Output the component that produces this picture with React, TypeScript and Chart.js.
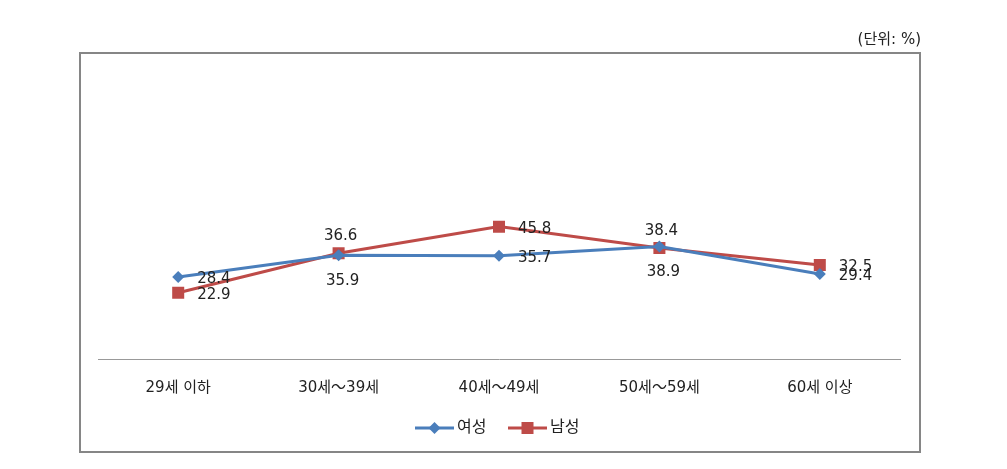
import React, { useEffect, useRef } from 'react';
import { Chart, registerables } from 'chart.js';

Chart.register(...registerables);

const categories = ['29세 이하', '30세～39세', '40세～49세', '50세～59세', '60세 이상'];
const femaleValues = [28.4, 35.9, 35.7, 38.9, 29.4];
const maleValues = [22.9, 36.6, 45.8, 38.4, 32.5];
const seriesNames = ['여성', '남성'];
const unitLabel = '(단위: %)';
const femaleLabelPos = ['right', 'below', 'right', 'below', 'right'];
const maleLabelPos = ['right', 'above', 'right', 'above', 'right'];

const BLUE = '#4A7EBB';
const RED = '#BE4B48';
const LABEL_FONT = '15px "DejaVu Sans", Verdana, sans-serif';
const KR_FONT = '"DejaVu Sans", "Noto Sans CJK KR", "Noto Sans", sans-serif';

const decorPlugin = {
  id: 'decor',
  beforeDraw(chart: any) {
    const ctx = chart.ctx;
    ctx.save();
    ctx.fillStyle = '#ffffff';
    ctx.fillRect(0, 0, chart.width, chart.height);
    ctx.strokeStyle = '#868686';
    ctx.lineWidth = 2;
    ctx.strokeRect(80, 53, 840, 399);
    ctx.fillStyle = '#222222';
    ctx.font = '15px ' + KR_FONT;
    ctx.textAlign = 'right';
    ctx.textBaseline = 'middle';
    ctx.fillText(unitLabel, 921, 40);
    ctx.restore();
  },
  afterDraw(chart: any) {
    const ctx = chart.ctx;
    ctx.save();
    // data labels
    const posSets = [femaleLabelPos, maleLabelPos];
    ctx.font = LABEL_FONT;
    ctx.fillStyle = '#222222';
    chart.data.datasets.forEach((ds: any, di: number) => {
      const meta = chart.getDatasetMeta(di);
      meta.data.forEach((pt: any, i: number) => {
        const v = ds.data[i];
        const p = posSets[di][i];
        const txt = v.toFixed(1);
        if (p === 'right') {
          ctx.textAlign = 'left';
          ctx.textBaseline = 'middle';
          ctx.fillText(txt, pt.x + 19, pt.y + 2);
        } else if (p === 'above') {
          ctx.textAlign = 'center';
          ctx.textBaseline = 'middle';
          ctx.fillText(txt, pt.x + 2, pt.y - 17);
        } else {
          ctx.textAlign = 'center';
          ctx.textBaseline = 'middle';
          ctx.fillText(txt, pt.x + 4, pt.y + 26);
        }
      });
    });
    // legend
    const items = [
      { x: 415, color: BLUE, style: 'diamond' },
      { x: 508, color: RED, style: 'square' },
    ];
    const ly = 428;
    items.forEach((it, k) => {
      ctx.strokeStyle = it.color;
      ctx.lineWidth = 3;
      ctx.beginPath();
      ctx.moveTo(it.x, ly);
      ctx.lineTo(it.x + 39, ly);
      ctx.stroke();
      ctx.fillStyle = it.color;
      const cx = it.x + 19.5;
      if (it.style === 'diamond') {
        ctx.beginPath();
        ctx.moveTo(cx, ly - 6);
        ctx.lineTo(cx + 6, ly);
        ctx.lineTo(cx, ly + 6);
        ctx.lineTo(cx - 6, ly);
        ctx.closePath();
        ctx.fill();
      } else {
        ctx.fillRect(cx - 6, ly - 6, 12, 12);
      }
      ctx.fillStyle = '#222222';
      ctx.font = '16px ' + KR_FONT;
      ctx.textAlign = 'left';
      ctx.textBaseline = 'middle';
      ctx.fillText(seriesNames[k], it.x + 42, ly);
    });
    ctx.restore();
  },
};

export default function App() {
  const ref = useRef<HTMLCanvasElement | null>(null);
  useEffect(() => {
    if (!ref.current) return;
    const chart = new Chart(ref.current, {
      type: 'line',
      data: {
        labels: categories,
        datasets: [
          {
            label: seriesNames[0],
            data: femaleValues,
            borderColor: BLUE,
            backgroundColor: BLUE,
            borderWidth: 3,
            pointStyle: 'rectRot',
            pointRadius: 6,
            pointBorderWidth: 0,
            tension: 0,
          },
          {
            label: seriesNames[1],
            data: maleValues,
            borderColor: RED,
            backgroundColor: RED,
            borderWidth: 3,
            pointStyle: 'rect',
            pointRadius: 8.5,
            pointBorderWidth: 0,
            tension: 0,
          },
        ],
      },
      options: {
        responsive: false,
        animation: false,
        layout: { padding: { left: 98, right: 107, top: 70, bottom: 0 } },
        plugins: {
          legend: { display: false },
          tooltip: { enabled: false },
          title: { display: false },
        },
        scales: {
          x: {
            offset: true,
            grid: { display: false },
            border: { display: true, color: '#999999', width: 1 },
            ticks: {
              color: '#222222',
              font: { family: KR_FONT, size: 15 },
              padding: 12,
              maxRotation: 0,
              autoSkip: false,
            },
            afterFit: (scale: any) => {
              scale.height = 110;
            },
          },
          y: {
            display: false,
            min: 0,
            max: 100,
          },
        },
      },
      plugins: [decorPlugin],
    });
    return () => chart.destroy();
  }, []);
  return (
    <div style={{ position: 'absolute', left: 0, top: 0, width: 1007, height: 469 }}>
      <canvas ref={ref} width={1007} height={469} style={{ width: 1007, height: 469 }} />
    </div>
  );
}
